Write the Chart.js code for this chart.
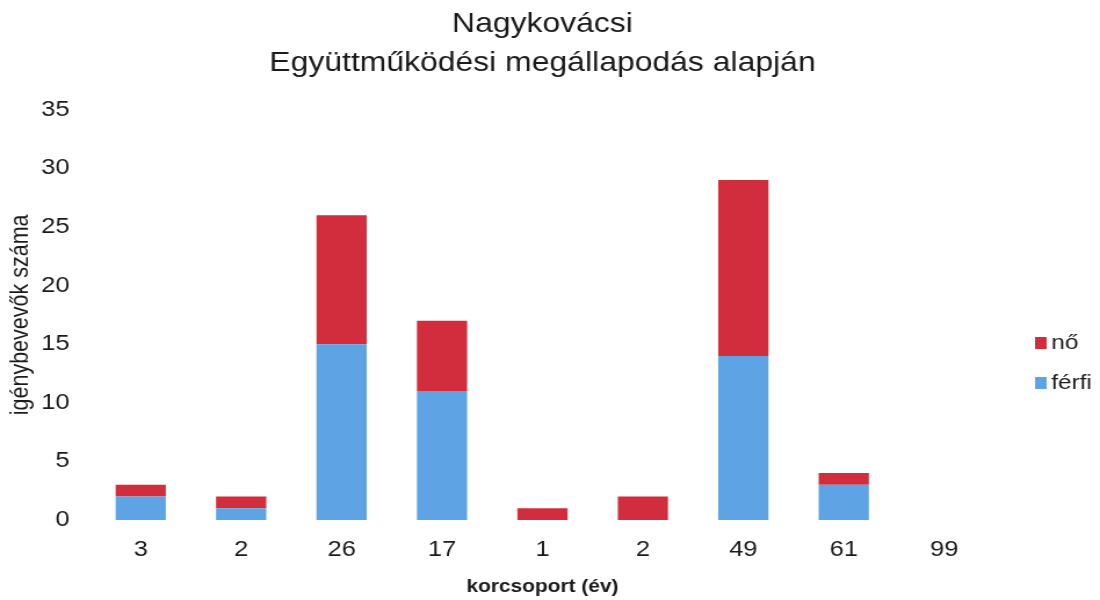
<!DOCTYPE html>
<html>
<head>
<meta charset="utf-8">
<script src="https://cdn.jsdelivr.net/npm/chart.js@4.4.0/dist/chart.umd.min.js"></script>
<style>
    html, body { margin: 0; padding: 0; background: #fff; overflow: hidden; }
    /* the original scan is a bit wider than tall, so the canvas is stretched sideways */
    #chart { display: block; }
</style>
</head>
<body>
<canvas id="chart" width="948" height="600" style="width:1100px;height:600px"></canvas>
<script>
// Age group labels and counts per gender
const categories = ['3', '2', '26', '17', '1', '2', '49', '61', '99'];
const ferfiValues = [2, 1, 15, 11, 0, 0, 14, 3, 0];
const noValues = [1, 1, 11, 6, 1, 2, 15, 1, 0];
const yTicks = [0, 5, 10, 15, 20, 25, 30, 35];

const RED = '#d22d3d';
const BLUE = '#5ea4e4';
const TEXT = '#1a1a1a';
const FONT = "'Liberation Sans', Arial, sans-serif";

// Legend on the right, drawn by hand so it sits where the original does
const sideLegend = {
    id: 'sideLegend',
    afterDraw(chart) {
        const ctx = chart.ctx;
        const items = chart.data.datasets.slice().reverse();
        ctx.save();
        ctx.font = '21px ' + FONT;
        ctx.textBaseline = 'middle';
        items.forEach((ds, i) => {
            const y = 343 + i * 40;
            ctx.fillStyle = ds.backgroundColor;
            ctx.fillRect(892, y - 6, 10, 12);
            ctx.fillStyle = TEXT;
            ctx.fillText(ds.label, 906, y);
        });
        ctx.restore();
    }
};

const ctx = document.getElementById('chart').getContext('2d');
new Chart(ctx, {
    type: 'bar',
    data: {
        labels: categories,
        datasets: [
            { label: 'férfi', data: ferfiValues, backgroundColor: BLUE },
            { label: 'nő', data: noValues, backgroundColor: RED }
        ]
    },
    options: {
        responsive: false,
        animation: false,
        devicePixelRatio: 1,
        layout: { padding: { left: 0, right: 91, top: 0, bottom: 0 } },
        datasets: {
            bar: { categoryPercentage: 1, barPercentage: 0.5 }
        },
        plugins: {
            legend: { display: false },
            tooltip: { enabled: false },
            title: {
                display: true,
                fullSize: false,
                text: ['Nagykovácsi', 'Együttműködési megállapodás alapján'],
                color: TEXT,
                font: { family: FONT, size: 27.5, weight: 'normal', lineHeight: 1.45 },
                padding: { top: 4, bottom: 26 }
            }
        },
        scales: {
            x: {
                stacked: true,
                grid: { display: false, drawTicks: false },
                border: { display: false },
                ticks: {
                    color: TEXT,
                    font: { family: FONT, size: 22 },
                    padding: 17,
                    maxRotation: 0
                },
                title: {
                    display: true,
                    text: 'korcsoport (év)',
                    color: TEXT,
                    font: { family: FONT, size: 18, weight: 'bold' },
                    padding: { top: 4, bottom: 2 }
                },
                afterFit: s => { s.height = 80; }
            },
            y: {
                stacked: true,
                min: 0,
                max: 35,
                grid: { display: false, drawTicks: false },
                border: { display: false },
                afterBuildTicks: s => { s.ticks = yTicks.map(v => ({ value: v })); },
                ticks: {
                    color: TEXT,
                    font: { family: FONT, size: 22 },
                    padding: 18
                },
                title: {
                    display: true,
                    text: 'igénybevevők száma',
                    color: TEXT,
                    font: { family: FONT, size: 21.5 },
                    padding: { top: 5, bottom: 0 }
                },
                afterFit: s => { s.width = 78; }
            }
        }
    },
    plugins: [sideLegend]
});
</script>
</body>
</html>
